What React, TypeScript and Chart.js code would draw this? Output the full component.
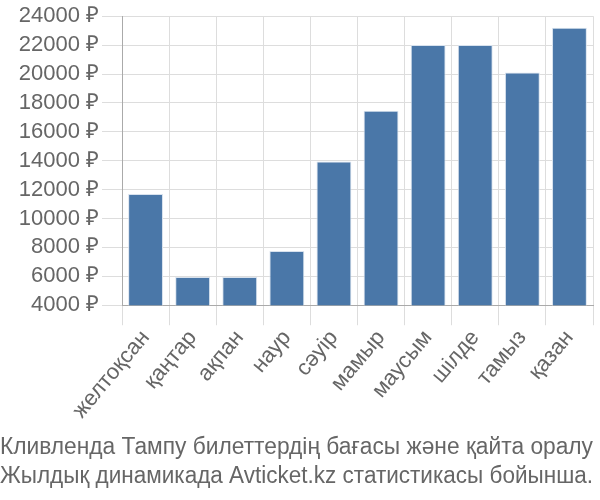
import React, { useEffect, useRef } from "react";
import { Chart, registerables } from "chart.js";

Chart.register(...registerables);

const categories = ["желтоқсан", "қаңтар", "ақпан", "наур", "сәуір", "мамыр", "маусым", "шілде", "тамыз", "қазан"];
const prices = [11700, 5950, 5950, 7750, 13950, 17450, 22000, 22000, 20100, 23200];
const titleLines = [
  "Кливленда Тампу билеттердің бағасы және қайта оралу",
  "Жылдық динамикада Avticket.kz статистикасы бойынша.",
];
const yMin = 4000;
const yMax = 24000;
const yStep = 2000;
const currency = "₽";

export default function App() {
  const ref = useRef<HTMLCanvasElement | null>(null);
  useEffect(() => {
    document.body.style.margin = "0";
    const ctx = ref.current!;
    const font = "'Liberation Sans', Arial, sans-serif";
    const chart = new Chart(ctx, {
      type: "bar",
      data: {
        labels: categories,
        datasets: [
          {
            data: prices,
            backgroundColor: "#4a77a8",
            borderColor: "#d8e2ee",
            borderWidth: 1,
            barPercentage: 0.74,
            categoryPercentage: 1,
          },
        ],
      },
      options: {
        responsive: false,
        animation: false,
        layout: { padding: { top: 4, right: 7, left: 0, bottom: 9 } },
        plugins: {
          legend: { display: false },
          tooltip: { enabled: false },
          title: {
            display: true,
            position: "bottom",
            text: titleLines,
            color: "#666",
            font: { family: font, size: 23, weight: "normal", lineHeight: 1.25 },
            padding: { top: 10, bottom: 0 },
          },
        },
        scales: {
          x: {
            grid: { color: "#dddddd", tickLength: 20, offset: true },
            border: { color: "#aaaaaa" },
            ticks: {
              color: "#666",
              font: { family: font, size: 22 },
              minRotation: 50,
              maxRotation: 50,
              autoSkip: false,
              padding: 0,
            },
          },
          y: {
            min: yMin,
            max: yMax,
            grid: { color: "#dddddd", tickLength: 20 },
            border: { color: "#aaaaaa" },
            afterFit: (axis: any) => {
              axis.width = 122;
            },
            ticks: {
              stepSize: yStep,
              autoSkip: false,
              color: "#666",
              font: { family: font, size: 22 },
              padding: 3,
              callback: (v: any) => `${v} ${currency}`,
            },
          },
        },
      },
    });
    return () => chart.destroy();
  }, []);
  return (
    <div style={{ width: 600, height: 500 }}>
      <canvas ref={ref} width={600} height={500} style={{ display: "block" }} />
    </div>
  );
}
